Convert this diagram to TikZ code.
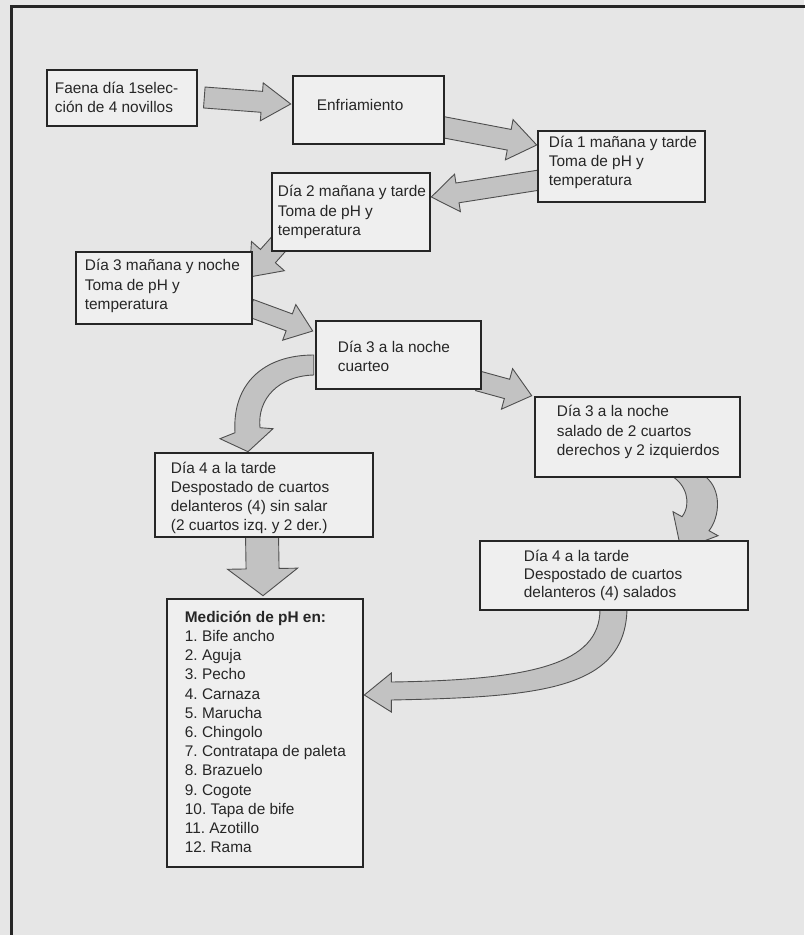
\documentclass[tikz,border=0pt]{standalone}
\usepackage{fontspec}
\setmainfont{Liberation Sans}
\usetikzlibrary{calc}
\definecolor{paper}{HTML}{E6E6E6}
\definecolor{boxfill}{HTML}{EFEFEF}
\definecolor{ink}{HTML}{262626}
\definecolor{arrfill}{HTML}{C2C2C2}
\definecolor{arrline}{HTML}{4E4E4E}
\pgfdeclarelayer{paperlayer}
\pgfdeclarelayer{arrowlayer}
\pgfsetlayers{paperlayer,arrowlayer,main}
\tikzset{
  box/.style={draw=ink, line width=2.6pt, fill=boxfill, inner sep=0pt},
  txt/.style={anchor=west, align=left, inner sep=0pt, text=ink,
              font=\fontsize{15.4}{19.2}\selectfont},
  arr/.style={draw=arrline, line width=0.9pt, fill=arrfill, line join=miter},
}
% #1 start, #2 tip, #3 shaft half width, #4 head half width, #5 head length
\newcommand\blkarrow[5]{%
  \path ($(#2)!#5!(#1)$) coordinate (hb);
  \filldraw[arr] ($(#1)!#3!90:(#2)$) -- ($(hb)!#3!90:(#2)$) -- ($(hb)!#4!90:(#2)$)
    -- (#2) -- ($(hb)!#4!-90:(#2)$) -- ($(hb)!#3!-90:(#2)$) -- ($(#1)!#3!-90:(#2)$) -- cycle;}
\begin{document}
\frenchspacing
\begin{tikzpicture}[x=1pt,y=-1pt]
\useasboundingbox (0,0) rectangle (804,935);
\begin{pgfonlayer}{paperlayer}
  \fill[paper] (0,0) rectangle (804,935);
  \draw[ink, line width=3pt] (11,940) -- (11,6) -- (810,6);
\end{pgfonlayer}

% boxes
\node[box, minimum width=150pt, minimum height=56pt] (b1) at (122,98) {};
\node[box, minimum width=151pt, minimum height=68pt] (b2) at (368.5,110) {};
\node[box, minimum width=167pt, minimum height=71pt] (b3) at (621.5,166.5) {};
\node[box, minimum width=158pt, minimum height=78pt] (b4) at (351,212) {};
\node[box, minimum width=176pt, minimum height=72pt] (b5) at (164,288) {};
\node[box, minimum width=165pt, minimum height=68pt] (b6) at (398.5,355) {};
\node[box, minimum width=205pt, minimum height=80pt] (b7) at (637.5,437) {};
\node[box, minimum width=218pt, minimum height=84pt] (b8) at (264,495) {};
\node[box, minimum width=268pt, minimum height=69pt] (b9) at (614,575.5) {};
\node[box, minimum width=196pt, minimum height=268pt] (b10) at (265,733) {};

% texts
\node[txt] (t1) at ($(b1.west)+(9,-0.5)$) {Faena día 1selec-\\ción de 4 novillos};
\node[txt] (t2) at ($(b2.west)+(25,-5)$) {Enfriamiento};
\node[txt] (t3) at ($(b3.west)+(12,-4)$) {Día 1 mañana y tarde\\Toma de pH y\\temperatura};
\node[txt] (t4) at ($(b4.west)+(7,0)$) {Día 2 mañana y tarde\\Toma de pH y\\temperatura};
\node[txt] (t5) at ($(b5.west)+(10,-2)$) {Día 3 mañana y noche\\Toma de pH y\\temperatura};
\node[txt] (t6) at ($(b6.west)+(23,1.5)$) {Día 3 a la noche\\cuarteo};
\node[txt] (t7) at ($(b7.west)+(23,-5)$) {Día 3 a la noche\\salado de 2 cuartos\\derechos y 2 izquierdos};
\node[txt] (t8) at ($(b8.west)+(17,3)$) {Día 4 a la tarde\\Despostado de cuartos\\delanteros (4) sin salar\\(2 cuartos izq. y 2 der.)};
\node[txt, font=\fontsize{15.4}{18}\selectfont] (t9) at ($(b9.west)+(45,0)$) {Día 4 a la tarde\\Despostado de cuartos\\delanteros (4) salados};
\node[txt] (t10) at ($(b10.west)+(19,-1)$) {{\bfseries Medición de pH en:}\\1. Bife ancho\\2. Aguja\\3. Pecho\\4. Carnaza\\5. Marucha\\6. Chingolo\\7. Contratapa de paleta\\8. Brazuelo\\9. Cogote\\10. Tapa de bife\\11. Azotillo\\12. Rama};

% arrows
\begin{pgfonlayer}{arrowlayer}
  \coordinate (s1) at ($(b1.east)+(6,-0.5)$);
  \coordinate (e1) at ($(b2.west)+(-1,-6)$);
  \blkarrow{s1}{e1}{10.5pt}{19pt}{29pt}
  \coordinate (s2) at ($(b2.east)+(-3,17)$);
  \coordinate (e2) at ($(b3.west)+(0,-21.5)$);
  \blkarrow{s2}{e2}{10.5pt}{20.5pt}{28pt}
  \coordinate (s3) at ($(b3.west)+(3,13.5)$);
  \coordinate (e3) at ($(b4.east)+(0,-15)$);
  \blkarrow{s3}{e3}{10pt}{19pt}{26.5pt}
  \coordinate (s4) at ($(b4.west)+(24,14)$);
  \coordinate (e4) at ($(b5.east)+(-4,-11)$);
  \blkarrow{s4}{e4}{10pt}{22pt}{28pt}
  \coordinate (s5) at ($(b5.east)+(-3,20)$);
  \coordinate (e5) at ($(b6.west)+(-2,-24)$);
  \blkarrow{s5}{e5}{9pt}{19pt}{25pt}
  \coordinate (s6) at ($(b6.east)+(-4,26)$);
  \coordinate (e6) at ($(b7.north west)+(-2,0)$);
  \blkarrow{s6}{e6}{10pt}{21pt}{25.6pt}
  \coordinate (s7) at ($(b8.south)+(-2,-5)$);
  \coordinate (e7) at ($(b10.north)+(-2,-2)$);
  \blkarrow{s7}{e7}{16.5pt}{35pt}{27pt}
  % curved: cuarteo -> sin salar
  \filldraw[arr] ($(b6.west)+(-1,0)$) .. controls +(-50,0) and +(-3,-49) .. ($(b8.north)+(-29,-19)$)
    -- ($(b8.north)+(-44,-13)$) -- ($(b8.north)+(-16,0)$) -- ($(b8.north)+(9,-23)$)
    -- ($(b8.north)+(-4,-24)$) .. controls +(-3,-29) and +(-35,1) .. ($(b6.west)+(-1,20)$) -- cycle;
  % curved: salado -> despostado salados
  \filldraw[arr] ($(b7.south)+(34.5,-2)$) .. controls +(14,8) and +(10,-13) .. ($(b9.north)+(68,-23)$)
    -- ($(b9.north)+(59,-28)$) -- ($(b9.north)+(67,10)$) -- ($(b9.north)+(104,-4)$)
    -- ($(b9.north)+(95,-9)$) .. controls +(11,-14) and +(17,13) .. ($(b7.south)+(67.5,-2)$) -- cycle;
  % curved: salados -> medicion
  \filldraw[arr] ($(b9.south)+(-14,-2)$) .. controls +(0,55) and +(140,-2) .. ($(b10.east)+(27,-51)$)
    -- ($(b10.east)+(27,-60)$) -- ($(b10.east)+(0,-38)$) -- ($(b10.east)+(27,-21)$)
    -- ($(b10.east)+(27,-33)$) .. controls +(150,-3) and +(-2,80) .. ($(b9.south)+(13,-2)$) -- cycle;
\end{pgfonlayer}
\end{tikzpicture}
\end{document}
